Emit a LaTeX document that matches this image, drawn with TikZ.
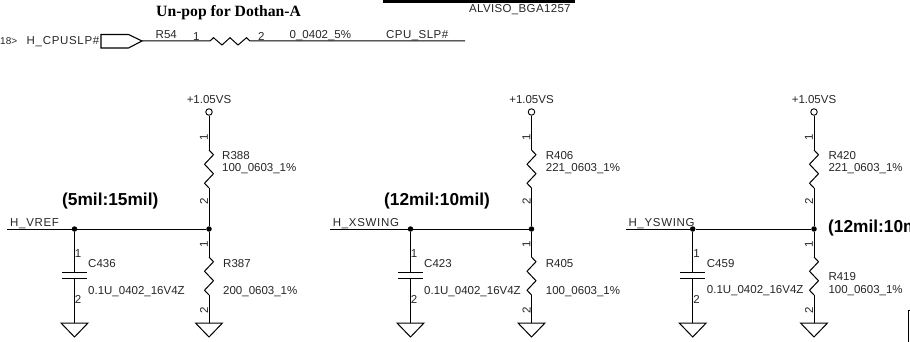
\documentclass[tikz,border=0pt]{standalone}
\usepackage{fontspec}
\setmainfont{Liberation Sans}
\newfontfamily\serifbold{Liberation Serif}
\tikzset{
 x=1pt,y=-1pt,
 wire/.style={line width=1pt,black},
 lbl/.style={inner sep=0pt,anchor=base west,font=\fontsize{11.5}{13}\selectfont,text=black!85},
 netlbl/.style={lbl,font=\fontsize{11.5}{13}\selectfont\addfontfeature{LetterSpace=6}},
 num/.style={inner sep=0pt,anchor=center,font=\fontsize{11.5}{13}\selectfont,text=black!85},
 vnum/.style={num,rotate=90},
 head/.style={inner sep=0pt,anchor=base west,font=\bfseries\fontsize{17.3}{20}\selectfont},
 dot/.style={circle,fill=black,inner sep=0pt,minimum size=5.5pt},
 pwr/.style={circle,draw=black,line width=0.9pt,fill=white,inner sep=0pt,minimum size=6.5pt},
}
\newcommand{\resV}[2]{% x, ytop : vertical zigzag
 \draw[wire] (#1,#2) -- ++(4.5,4.75) -- ++(-9,9.5) -- ++(9,9.5) -- ++(-9,9.5) -- ++(4.5,4.75);}
\newcommand{\gnd}[2]{\draw[wire] (#1-13.5,#2) -- (#1+13.5,#2) -- (#1,#2+14) -- cycle;}
\begin{document}
\begin{tikzpicture}
\useasboundingbox (0,0) rectangle (910,342);
% top
\fill[black] (382.5,0) rectangle (575,3);
\node[lbl,font=\fontsize{11.5}{13}\selectfont\addfontfeature{LetterSpace=3}] (alviso) at (469,12.5) {ALVISO\_BGA1257};
\node[inner sep=0pt,anchor=base west,font=\serifbold\bfseries\fontsize{15.7}{18}\selectfont] (unpop) at (156,16.5) {Un-pop for Dothan-A};
\node[lbl,font=\fontsize{10}{12}\selectfont] (offp) at (0,45) {18>};
\node[netlbl] (hcpu) at (26.5,45) {H\_CPUSLP\#};
\draw[wire,line width=1.1pt] (101,34.5) -- (128.5,34.5) -- (142,41) -- (128.5,48) -- (101,48) -- cycle;
\coordinate (pa) at (142,41);
\coordinate (pb) at (465,41);
\draw[wire] (pa) -- (210,41) -- (213.5,37.7) -- (222,45) -- (230,37.7) -- (238,45) -- (246.5,37.7) -- (250,41) -- (pb);
\node[lbl] (r54) at (155.5,39) {R54};
\node[lbl] (n1) at (193,41) {1};
\node[lbl] (n2) at (258,41) {2};
\node[lbl] (v54) at (289.5,39) {0\_0402\_5\%};
\node[lbl,font=\fontsize{11.5}{13}\selectfont\addfontfeature{LetterSpace=4}] (cpuslp) at (386,39) {CPU\_SLP\#};
% block 1
\node[pwr] (p1) at (209,112) {};
\node[num] (vs1) at (209,99.5) {+1.05VS};
\node[dot] (j1) at (209,229) {};
\node[dot] (k1) at (74.5,229) {};
\coordinate (l1) at (7,229);
\draw[wire] (l1) -- (k1) -- (j1);
\draw[wire] (p1) -- (209,150);
\resV{209}{150}
\draw[wire] (209,188) -- (j1);
\draw[wire] (j1) -- (209,257);
\resV{209}{257}
\draw[wire] (209,295) -- (209,323);
\gnd{209}{323}
\draw[wire] (k1) -- (74.5,272);
\draw[wire] (62,272) -- (87,272);
\draw[wire] (62,278.5) -- (87,278.5);
\draw[wire] (74.5,278.5) -- (74.5,323);
\gnd{74.5}{323}
\node[vnum] at (204,137) {1};
\node[vnum] at (204,201.5) {2};
\node[vnum] at (204,244) {1};
\node[vnum] at (204,310) {2};
\node[num] at (78,254) {1};
\node[num] at (78,299) {2};
\node[lbl] at (222,159.5) {R388};
\node[lbl] at (222,171.7) {100\_0603\_1\%};
\node[lbl] at (223,267) {R387};
\node[lbl] at (223,294) {200\_0603\_1\%};
\node[lbl] at (88,267) {C436};
\node[lbl] at (88,294) {0.1U\_0402\_16V4Z};
\node[netlbl] at (10,226.5) {H\_VREF};
\node[head] at (62,205) {(5mil:15mil)};
% block 2
\node[pwr] (p2) at (531.5,112) {};
\node[num] (vs2) at (531.5,99.5) {+1.05VS};
\node[dot] (j2) at (531.5,229) {};
\node[dot] (k2) at (410.5,229) {};
\coordinate (l2) at (330,229);
\draw[wire] (l2) -- (k2) -- (j2);
\draw[wire] (p2) -- (531.5,150);
\resV{531.5}{150}
\draw[wire] (531.5,188) -- (j2);
\draw[wire] (j2) -- (531.5,257);
\resV{531.5}{257}
\draw[wire] (531.5,295) -- (531.5,323);
\gnd{531.5}{323}
\draw[wire] (k2) -- (410.5,272);
\draw[wire] (398,272) -- (423,272);
\draw[wire] (398,278.5) -- (423,278.5);
\draw[wire] (410.5,278.5) -- (410.5,323);
\gnd{410.5}{323}
\node[vnum] at (526.5,137) {1};
\node[vnum] at (526.5,201.5) {2};
\node[vnum] at (526.5,244) {1};
\node[vnum] at (526.5,310) {2};
\node[num] at (414,254) {1};
\node[num] at (414,299) {2};
\node[lbl] at (545.7,159.5) {R406};
\node[lbl] at (545.7,171.7) {221\_0603\_1\%};
\node[lbl] at (545.7,267) {R405};
\node[lbl] at (545.7,294) {100\_0603\_1\%};
\node[lbl] at (424,267) {C423};
\node[lbl] at (424,294) {0.1U\_0402\_16V4Z};
\node[netlbl] at (332.7,226.5) {H\_XSWING};
\node[head] at (384,205) {(12mil:10mil)};
% block 3
\node[pwr] (p3) at (814,112) {};
\node[num] (vs3) at (814,99.5) {+1.05VS};
\node[dot] (j3) at (814,229) {};
\node[dot] (k3) at (692.7,229) {};
\coordinate (l3) at (625.7,229);
\draw[wire] (l3) -- (k3) -- (j3);
\draw[wire] (p3) -- (814,150);
\resV{814}{150}
\draw[wire] (814,188) -- (j3);
\draw[wire] (j3) -- (814,257);
\resV{814}{257}
\draw[wire] (814,295) -- (814,323);
\gnd{814}{323}
\draw[wire] (k3) -- (692.7,272);
\draw[wire] (680.2,272) -- (705.2,272);
\draw[wire] (680.2,278.5) -- (705.2,278.5);
\draw[wire] (692.7,278.5) -- (692.7,323);
\gnd{692.7}{323}
\node[vnum] at (809,137) {1};
\node[vnum] at (809,201.5) {2};
\node[vnum] at (809,244) {1};
\node[vnum] at (809,310) {2};
\node[num] at (696.5,254) {1};
\node[num] at (696.5,299) {2};
\node[lbl] at (828.3,159.5) {R420};
\node[lbl] at (828.3,171.7) {221\_0603\_1\%};
\node[lbl] at (828.3,280.7) {R419};
\node[lbl] at (828.3,293.5) {100\_0603\_1\%};
\node[lbl] at (706.7,267) {C459};
\node[lbl] at (706.7,293.5) {0.1U\_0402\_16V4Z};
\node[netlbl] at (628.3,226.5) {H\_YSWING};
\begin{scope}
\clip (0,0) rectangle (910,342);
\node[head] at (828,232) {(12mil:10mil)};
\end{scope}
\draw[wire] (908,342) -- (908,310) -- (910,310);
\end{tikzpicture}
\end{document}
